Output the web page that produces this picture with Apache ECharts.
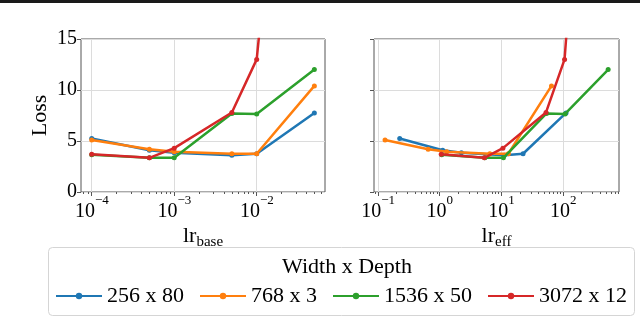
<!DOCTYPE html>
<html><head><meta charset="utf-8">
<script src="https://cdn.jsdelivr.net/npm/echarts@6/dist/echarts.min.js"></script>
<style>html,body{margin:0;padding:0;background:#fff}#c{width:640px;height:317px}</style>
</head><body><div id="c"></div>
<script>
// ---- data ----
const seriesNames = ['256 x 80', '768 x 3', '1536 x 50', '3072 x 12'];
const colors = ['#1f77b4', '#ff7f0e', '#2ca02c', '#d62728'];
const lrBase = [1e-4, 5e-4, 1e-3, 5e-3, 1e-2, 5e-2];
const lrEff256 = [0.225, 1.12, 2.25, 11.2, 22.5, 112];
const lrEff768 = [0.13, 0.65, 1.3, 6.5, 13, 65];
const lrEff1536 = [1.08, 5.4, 10.8, 54, 108, 540];
const lrEff3072 = [1.06, 5.3, 10.6, 53, 106, 530];
const loss256 = [5.25, 4.1, 3.85, 3.6, 3.75, 7.75];
const loss768 = [5.1, 4.2, 3.95, 3.75, 3.75, 10.4];
const loss1536 = [3.65, 3.35, 3.35, 7.7, 7.65, 12.0];
const loss3072 = [3.7, 3.35, 4.3, 7.8, 13.0, 70];
const yTicks = [0, 5, 10, 15];
const xTicksBase = [1e-4, 1e-3, 1e-2];
const xTicksEff = [1e-1, 1, 10, 100];
const legendTitle = 'Width x Depth';

const lossSets = [loss256, loss768, loss1536, loss3072];
const effSets = [lrEff256, lrEff768, lrEff1536, lrEff3072];

const FONT = 'Liberation Serif';
const baseMin = Math.pow(10, -4.13), baseMax = Math.pow(10, -1.172);
const effMin = Math.pow(10, -1.065), effMax = Math.pow(10, 2.908);

function minorTicks(lo, hi) {
  const out = [];
  for (let e = Math.floor(Math.log10(lo)); e <= Math.ceil(Math.log10(hi)); e++) {
    for (let m = 2; m <= 9; m++) {
      const v = m * Math.pow(10, e);
      if (v >= lo && v <= hi) out.push(v);
    }
  }
  return out;
}
function powLabel(v) {
  const e = Math.round(Math.log10(v));
  return '{h| }{b|10}{s|' + (e < 0 ? '\u2212' + (-e) : String(e)) + '}';
}
const powRich = {
  h: { fontSize: 1, lineHeight: 28, verticalAlign: 'top', fontFamily: FONT, color: '#000' },
  b: { fontSize: 20, lineHeight: 20, verticalAlign: 'bottom', fontFamily: FONT, color: '#000' },
  s: { fontSize: 13, lineHeight: 13, verticalAlign: 'top', fontFamily: FONT, color: '#000' }
};
const frame = '#555';
const gridLine = { show: true, lineStyle: { color: '#dcdcdc', width: 1 } };

function majorX(grid, min, max, ticks, nameRich) {
  return {
    type: 'log', logBase: 10, gridIndex: grid, min: min, max: max, position: 'bottom',
    axisLine: { show: false },
    axisTick: { show: true, customValues: ticks, length: 4, inside: false, lineStyle: { color: frame } },
    axisLabel: { show: true, customValues: ticks, formatter: powLabel, rich: powRich, margin: 2 },
    splitLine: gridLine,
    name: nameRich, nameLocation: 'middle', nameGap: 33,
    nameTextStyle: {
      rich: {
        a: { fontSize: 22, fontFamily: FONT, color: '#000', lineHeight: 22, verticalAlign: 'bottom' },
        b: { fontSize: 15, fontFamily: FONT, color: '#000', lineHeight: 15, verticalAlign: 'top', padding: [10, 0, 0, 0] }
      }
    }
  };
}
function minorX(grid, min, max) {
  return {
    type: 'log', logBase: 10, gridIndex: grid, min: min, max: max, position: 'bottom',
    axisLine: { show: false },
    axisTick: { show: true, customValues: minorTicks(min, max), length: 2, lineStyle: { color: frame } },
    axisLabel: { show: false },
    splitLine: { show: false }
  };
}
function yAx(grid, showLabels) {
  const ax = {
    type: 'value', gridIndex: grid, min: 0, max: 15, interval: 5,
    axisLine: { show: false },
    axisTick: { show: true, length: 4, lineStyle: { color: frame } },
    axisLabel: { show: showLabels, fontSize: 20, fontFamily: FONT, color: '#000', margin: 4,
                 customValues: yTicks },
    splitLine: gridLine
  };
  if (showLabels) {
    ax.name = 'Loss';
    ax.nameLocation = 'middle';
    ax.nameGap = 30;
    ax.nameTextStyle = { fontSize: 22, fontFamily: FONT, color: '#000' };
  }
  return ax;
}

const series = [];
for (let i = 0; i < 4; i++) {
  series.push({
    name: seriesNames[i], type: 'line', xAxisIndex: 0, yAxisIndex: 0,
    data: lrBase.map((x, k) => [x, lossSets[i][k]]),
    symbol: 'circle', symbolSize: 5, showSymbol: true,
    lineStyle: { width: 2.5, color: colors[i] }, itemStyle: { color: colors[i] },
    clip: true, animation: false, z: 2 + i
  });
}
for (let i = 0; i < 4; i++) {
  series.push({
    name: seriesNames[i], type: 'line', xAxisIndex: 2, yAxisIndex: 1,
    data: effSets[i].map((x, k) => [x, lossSets[i][k]]),
    symbol: 'circle', symbolSize: 5, showSymbol: true,
    lineStyle: { width: 2.5, color: colors[i] }, itemStyle: { color: colors[i] },
    clip: true, animation: false, z: 2 + i
  });
}

const chart = echarts.init(document.getElementById('c'), null, { renderer: 'canvas' });
chart.setOption({
  animation: false,
  backgroundColor: '#fff',
  color: colors,
  grid: [
    { left: 81, top: 39, width: 244, height: 153, show: true, borderColor: frame, borderWidth: 1, backgroundColor: '#fff' },
    { left: 374, top: 39, width: 245, height: 153, show: true, borderColor: frame, borderWidth: 1, backgroundColor: '#fff' }
  ],
  xAxis: [
    majorX(0, baseMin, baseMax, xTicksBase, '{a|lr}{b|base}'),
    minorX(0, baseMin, baseMax),
    majorX(1, effMin, effMax, xTicksEff, '{a|lr}{b|eff}'),
    minorX(1, effMin, effMax)
  ],
  yAxis: [yAx(0, true), yAx(1, false)],
  title: {
    text: legendTitle, left: 342, top: 251, textAlign: 'center',
    textStyle: { fontSize: 22, fontFamily: FONT, fontWeight: 'normal', color: '#000' }
  },
  legend: {
    data: seriesNames, left: 50, top: 280, itemWidth: 46, itemHeight: 8, itemGap: 15,
    textStyle: { fontSize: 22, fontFamily: FONT, color: '#000' },
    selectedMode: false
  },
  graphic: [
    { type: 'rect', left: 0, top: 0, shape: { width: 640, height: 3 }, style: { fill: '#1a1a1a' }, z: 100 },
    { type: 'rect', left: 48, top: 247, shape: { width: 586, height: 68, r: 4 }, style: { fill: '#fff', stroke: '#d5d5d5', lineWidth: 1 }, z: -10 }
  ],
  series: series
});
</script></body></html>
